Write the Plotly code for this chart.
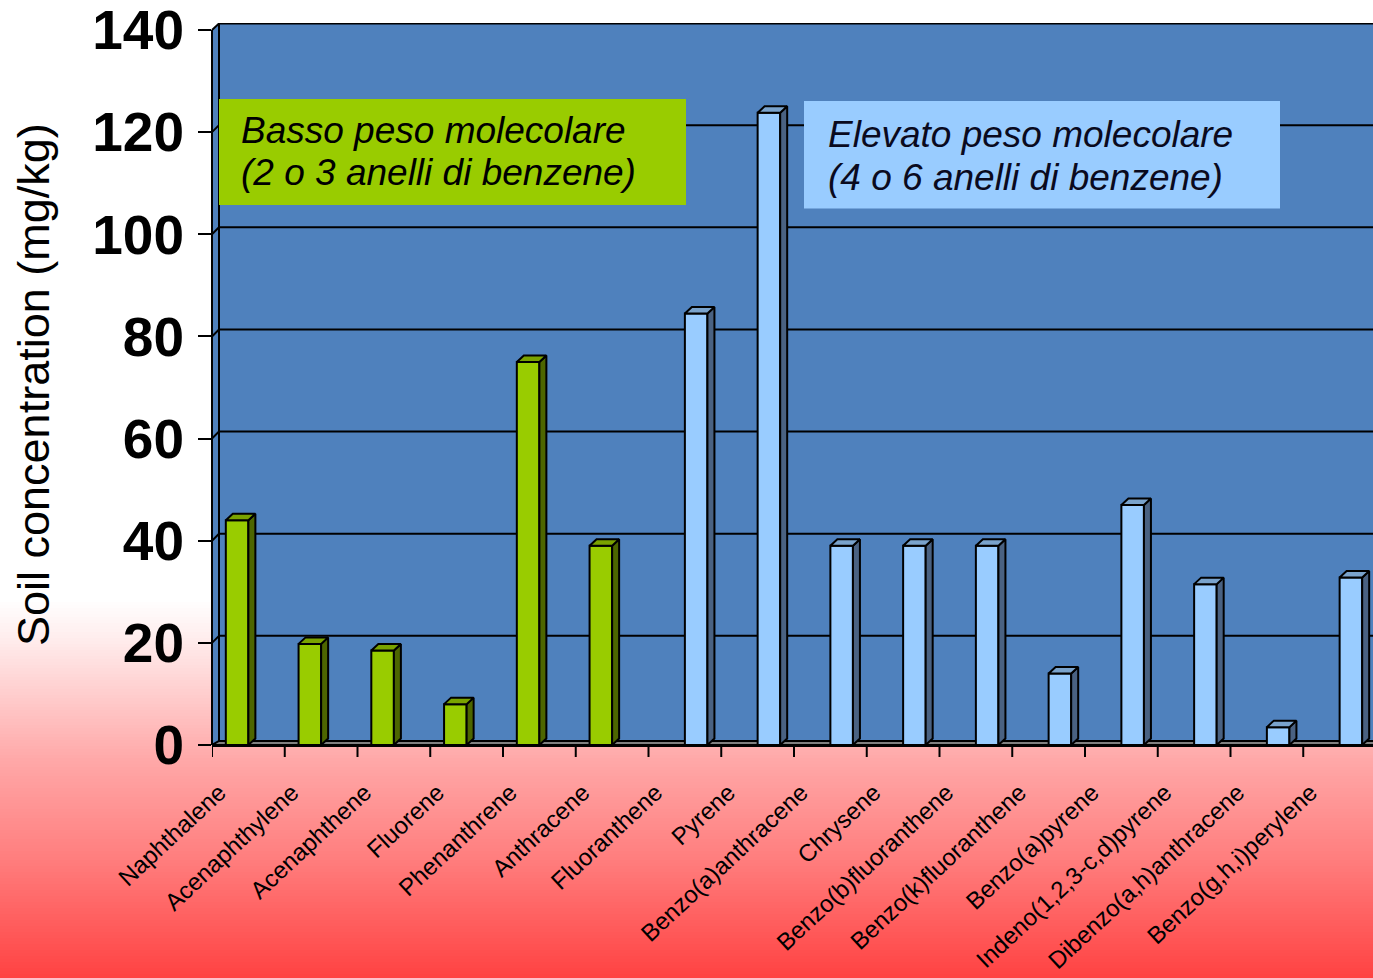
import plotly.graph_objects as go

# ---- data -------------------------------------------------------------
compounds = [
    "Naphthalene", "Acenaphthylene", "Acenaphthene", "Fluorene",
    "Phenanthrene", "Anthracene", "Fluoranthene", "Pyrene",
    "Benzo(a)anthracene", "Chrysene", "Benzo(b)fluoranthene",
    "Benzo(k)fluoranthene", "Benzo(a)pyrene", "Indeno(1,2,3-c,d)pyrene",
    "Dibenzo(a,h)anthracene", "Benzo(g,h,i)perylene",
]
low_mw = [44, 19.8, 18.5, 8, 75, 39,
          None, None, None, None, None, None, None, None, None, None]
high_mw = [None, None, None, None, None, None,
           84.5, 123.8, 39, 39, 39, 14, 47, 31.5, 3.5, 32.8]
y_ticks = [0, 20, 40, 60, 80, 100, 120, 140]
low_label = ["Basso peso molecolare", "(2 o 3 anelli di benzene)"]
high_label = ["Elevato peso molecolare", "(4 o 6 anelli di benzene)"]
y_title = "Soil concentration (mg/kg)"

# ---- page geometry ----------------------------------------------------
W, H = 1373, 978
ML, MT, MB = 212, 23, 233
PW, PH = W - ML, H - MT - MB          # plot area in px
SLOT = 72.75                          # px per category
YSCALE = 5.107                        # px per mg/kg
x_min = -0.5
x_max = x_min + PW / SLOT
y_max = PH / YSCALE

FONT = "Liberation Sans, Arial, sans-serif"

# 3-D look: depth offsets in data units
BAR_DX, BAR_DY = 7 / SLOT, 6.5 / YSCALE
WALL_DX, WALL_DY = 7 / SLOT, 7 / YSCALE
FLOOR_DY = 4 / YSCALE
BAR_W = 0.31


def px_x(p):
    return (p - ML) / PW


def px_y(p):
    return (MT + PH - p) / PH


shapes = []

# page background: white fading to red toward the bottom
stops = [(600, 255), (640, 236), (760, 168), (860, 125), (978, 66)]


def shade(p):
    if p <= stops[0][0]:
        return 255
    for (p0, g0), (p1, g1) in zip(stops, stops[1:]):
        if p <= p1:
            return g0 + (g1 - g0) * (p - p0) / (p1 - p0)
    return stops[-1][1]


step = 3
p = 596
while p < H:
    g = int(round(shade(p + step / 2)))
    shapes.append(dict(type="rect", xref="paper", yref="paper", layer="below",
                       x0=px_x(0), x1=px_x(W), y0=px_y(p + step + 0.5), y1=px_y(p),
                       fillcolor=f"rgb(255,{g},{g})", line=dict(width=0)))
    p += step

# blue walls of the plot area
shapes.append(dict(type="rect", xref="paper", yref="paper", layer="below",
                   x0=0, x1=1, y0=0, y1=1, fillcolor="#4f81bd", line=dict(width=0)))
# white corner above the slanted top of the side wall
shapes.append(dict(type="path", xref="paper", yref="paper", layer="below",
                   path=f"M {px_x(ML)},{px_y(MT - 1)} L {px_x(ML + 7.5)},{px_y(MT - 1)} "
                        f"L {px_x(ML)},{px_y(MT + 7)} Z",
                   fillcolor="white", line=dict(width=0)))

# floor
shapes.append(dict(type="path", xref="x", yref="y", layer="below",
                   path=f"M {x_min},0 L {x_max + 1},0 L {x_max + 1},{FLOOR_DY} "
                        f"L {x_min + WALL_DX},{FLOOR_DY} Z",
                   fillcolor="#808080", line=dict(color="black", width=2)))
# back wall left edge
shapes.append(dict(type="line", xref="x", yref="y", layer="below",
                   x0=x_min + WALL_DX, x1=x_min + WALL_DX, y0=FLOOR_DY, y1=y_max + 1,
                   line=dict(color="black", width=2)))
# gridlines on back wall and side wall
for v in y_ticks[1:]:
    yb = min(v + WALL_DY, y_max - 0.1)
    shapes.append(dict(type="line", xref="x", yref="y", layer="below",
                       x0=x_min + WALL_DX, x1=x_max + 1, y0=yb, y1=yb,
                       line=dict(color="black", width=2)))
    shapes.append(dict(type="line", xref="paper", yref="y", layer="below",
                       x0=0, x1=px_x(ML + 7), y0=v, y1=yb,
                       line=dict(color="black", width=2)))

# front vertical axis line
shapes.append(dict(type="line", xref="paper", yref="y", layer="above",
                   x0=0, x1=0, y0=0, y1=y_ticks[-1],
                   line=dict(color="black", width=2)))

# category boundary tick marks
for k in range(len(compounds) + 1):
    xb = k - 0.5
    if xb <= x_max:
        shapes.append(dict(type="line", xref="x", yref="paper", layer="above",
                           x0=xb, x1=xb, y0=0, y1=-12 / PH,
                           line=dict(color="black", width=2)))

# group boxes
shapes.append(dict(type="rect", xref="paper", yref="paper", layer="above",
                   x0=px_x(219), x1=px_x(686), y0=px_y(205), y1=px_y(99),
                   fillcolor="#99cc00", line=dict(width=0)))
shapes.append(dict(type="rect", xref="paper", yref="paper", layer="above",
                   x0=px_x(804), x1=px_x(1280), y0=px_y(208.5), y1=px_y(101),
                   fillcolor="#99ccff", line=dict(width=0)))

fig = go.Figure()

xs = list(range(len(compounds)))


def add_series(values, offset, front, top, side):
    fig.add_trace(go.Bar(
        x=xs, y=values, width=BAR_W, offset=offset,
        marker=dict(color=front, line=dict(color="black", width=2)),
        hoverinfo="skip", showlegend=False,
    ))
    sx, sy, tx, ty = [], [], [], []
    for i, v in zip(xs, values):
        if v is None:
            continue
        x0 = i + offset
        x1 = x0 + BAR_W
        sx += [x1, x1 + BAR_DX, x1 + BAR_DX, x1, x1, None]
        sy += [0, BAR_DY, v + BAR_DY, v, 0, None]
        tx += [x0, x1, x1 + BAR_DX, x0 + BAR_DX, x0, None]
        ty += [v, v, v + BAR_DY, v + BAR_DY, v, None]
    for px_, py_, col in ((sx, sy, side), (tx, ty, top)):
        fig.add_trace(go.Scatter(
            x=px_, y=py_, mode="lines", fill="toself", fillcolor=col,
            line=dict(color="black", width=2), hoverinfo="skip", showlegend=False,
        ))


add_series(low_mw, -BAR_W, "#99cc00", "#7aa300", "#4d6600")
add_series(high_mw, 0.0, "#99ccff", "#7aa3cc", "#4a6282")

annotations = [
    dict(text=y_title, xref="paper", yref="paper", x=px_x(33), y=px_y(385),
         textangle=-90, showarrow=False, xanchor="center", yanchor="middle",
         font=dict(family=FONT, size=45, color="black")),
]
for lines, left, centers, color in (
        (low_label, 239, (130, 172), "black"),
        (high_label, 826, (134, 178), "#0a0a1e")):
    for txt, c in zip(lines, centers):
        annotations.append(dict(
            text=f"<i>{txt}</i>", xref="paper", yref="paper",
            x=px_x(left), y=px_y(c), xanchor="left", yanchor="middle",
            showarrow=False, font=dict(family=FONT, size=37, color=color)))

fig.update_layout(
    width=W, height=H,
    margin=dict(l=ML, r=0, t=MT, b=MB, pad=0),
    paper_bgcolor="white", plot_bgcolor="rgba(0,0,0,0)",
    barmode="overlay", showlegend=False,
    shapes=shapes, annotations=annotations,
    xaxis=dict(
        range=[x_min, x_max], tickmode="array",
        tickvals=[i - 0.4 for i in xs], ticktext=compounds,
        ticks="", tickangle=-43, ticklabelstandoff=22,
        tickfont=dict(family=FONT, size=24, color="black"),
        showline=True, linecolor="black", linewidth=2,
        showgrid=False, zeroline=False, fixedrange=True,
    ),
    yaxis=dict(
        range=[0, y_max], tickmode="array", tickvals=y_ticks,
        ticks="outside", ticklen=13, tickwidth=2, tickcolor="black",
        ticklabelstandoff=3, ticklabeloverflow="allow",
        tickfont=dict(family=FONT, size=55, color="black", weight="bold"),
        showline=False, showgrid=False, zeroline=False, fixedrange=True,
    ),
)

fig.write_html("out.html")
